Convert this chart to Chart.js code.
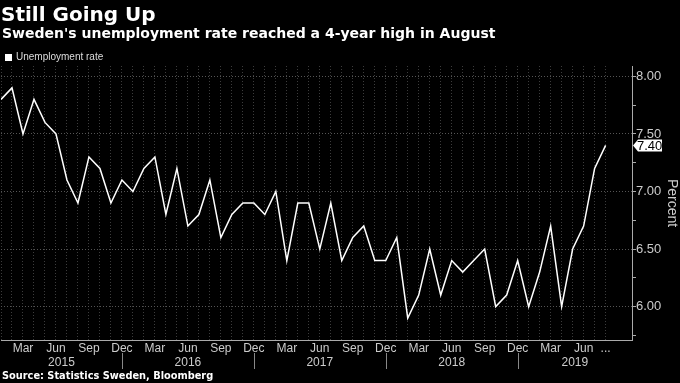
<!DOCTYPE html>
<html><head><meta charset="utf-8">
<script src="https://cdn.jsdelivr.net/npm/chart.js@4/dist/chart.umd.min.js"></script>
<style>
html,body{margin:0;padding:0;background:#000;width:680px;height:383px;overflow:hidden}
#wrap{position:relative;width:680px;height:383px}
canvas{position:absolute;left:0;top:0}
.t{position:absolute;color:#fff;white-space:nowrap;font-family:"DejaVu Sans",sans-serif;font-weight:bold}
.lg{position:absolute;left:5px;top:51px;color:#ddd;font:10px "Liberation Sans",Arial,sans-serif;white-space:nowrap}
.lg span{display:inline-block;width:7px;height:7px;background:#fff;margin-right:4px;vertical-align:-1px}
</style></head><body>
<div id="wrap">
<canvas id="c" width="680" height="383"></canvas>
<div class="t" style="left:1px;top:2px;font-size:20px">Still Going Up</div>
<div class="t" style="left:2px;top:25px;font-size:14px">Sweden's unemployment rate reached a 4-year high in August</div>
<div class="lg"><span></span>Unemployment rate</div>
<div class="t" style="left:2px;top:370px;font-size:9.8px">Source: Statistics Sweden, Bloomberg</div>
</div>
<script>
const startYear = 2015;
const monthNames = ['Jan','Feb','Mar','Apr','May','Jun','Jul','Aug','Sep','Oct','Nov','Dec'];
const unemployment = [
  7.8,7.9,7.5,7.8,7.6,7.5,7.1,6.9,7.3,7.2,6.9,7.1,
  7.0,7.2,7.3,6.8,7.2,6.7,6.8,7.1,6.6,6.8,6.9,6.9,
  6.8,7.0,6.4,6.9,6.9,6.5,6.9,6.4,6.6,6.7,6.4,6.4,
  6.6,5.9,6.1,6.5,6.1,6.4,6.3,6.4,6.5,6.0,6.1,6.4,
  6.0,6.3,6.7,6.0,6.5,6.7,7.2,7.4
];
const categories = unemployment.map((_, i) => monthNames[i % 12] + ' ' + (startYear + Math.floor(i / 12)));
const shownMonths = ['Mar','Jun','Sep','Dec'];
const yearLabels = ['2015','2016','2017','2018','2019'];
const yTickValues = [5.75,6.00,6.25,6.50,6.75,7.00,7.25,7.50,7.75,8.00];
const seriesName = 'Unemployment rate';

const points = unemployment.map((v, i) => ({x: i, y: v}));
const lastIdx = unemployment.length - 1;
const X_MAX = lastIdx + 2.4;

function xLabel(i) {
  if (i === lastIdx) return '...';
  const m = categories[i].split(' ')[0];
  return shownMonths.includes(m) ? m : '';
}

const yearPlugin = {
  id: 'years',
  afterDraw(chart) {
    const ctx = chart.ctx, xs = chart.scales.x;
    const bounds = [xs.min];
    for (let i = 0; i <= lastIdx; i++) if (categories[i].startsWith('Dec')) bounds.push(i);
    bounds.push(xs.max);
    ctx.save();
    ctx.fillStyle = '#ccc';
    ctx.font = '12px "Liberation Sans", Arial, sans-serif';
    ctx.textAlign = 'center';
    ctx.textBaseline = 'middle';
    for (let k = 0; k < yearLabels.length; k++) {
      const c = (bounds[k] + bounds[k + 1]) / 2;
      ctx.fillText(yearLabels[k], xs.getPixelForValue(c), 363);
    }
    ctx.strokeStyle = '#888';
    ctx.lineWidth = 1;
    for (let k = 1; k < bounds.length - 1; k++) {
      const px = Math.round(xs.getPixelForValue(bounds[k])) + 0.5;
      ctx.beginPath(); ctx.moveTo(px, 353); ctx.lineTo(px, 369); ctx.stroke();
    }
    ctx.restore();
  }
};

const tagPlugin = {
  id: 'tag',
  afterDraw(chart) {
    const ctx = chart.ctx, ys = chart.scales.y;
    const v = unemployment[lastIdx];
    const y = ys.getPixelForValue(v);
    const x0 = chart.chartArea.right + 1;
    ctx.save();
    ctx.fillStyle = '#fff';
    ctx.beginPath();
    ctx.moveTo(x0, y);
    ctx.lineTo(x0 + 5, y - 6);
    ctx.lineTo(x0 + 29, y - 6);
    ctx.lineTo(x0 + 29, y + 6);
    ctx.lineTo(x0 + 5, y + 6);
    ctx.closePath();
    ctx.fill();
    ctx.fillStyle = '#000';
    ctx.font = '13px "Liberation Sans", Arial, sans-serif';
    ctx.textAlign = 'left';
    ctx.textBaseline = 'middle';
    ctx.fillText(v.toFixed(2), x0 + 4, y + 0.5);
    ctx.restore();
  }
};

new Chart(document.getElementById('c'), {
  type: 'line',
  data: {
    datasets: [{
      label: seriesName,
      data: points,
      borderColor: '#fff',
      borderWidth: 1.5,
      pointRadius: 0,
      tension: 0,
      fill: false
    }]
  },
  options: {
    responsive: false,
    animation: false,
    layout: {padding: {top: 66, bottom: 23, left: 0, right: 0}},
    plugins: {legend: {display: false}, tooltip: {enabled: false}, title: {display: false}},
    scales: {
      x: {
        type: 'linear',
        min: 0,
        max: X_MAX,
        afterBuildTicks: s => { s.ticks = categories.map((_, i) => ({value: i})); },
        afterFit: s => { s.height = 20; },
        ticks: {
          autoSkip: false, maxRotation: 0, padding: 1,
          color: '#ccc',
          font: {family: '"Liberation Sans", Arial, sans-serif', size: 12},
          callback: v => xLabel(v)
        },
        grid: {color: '#3c3c3c', lineWidth: 1, drawTicks: false},
        border: {display: true, color: '#aaa', width: 1, dash: [1, 2]}
      },
      y: {
        type: 'linear',
        position: 'right',
        min: 5.71,
        max: 8.09,
        afterBuildTicks: s => { s.ticks = yTickValues.map(v => ({value: v})); },
        afterFit: s => { s.width = 48; },
        ticks: {
          padding: 0,
          color: '#ccc',
          font: {family: '"Liberation Sans", Arial, sans-serif', size: 13},
          callback: v => (Math.abs(v * 2 - Math.round(v * 2)) < 1e-6) ? v.toFixed(2) : ''
        },
        grid: {
          color: c => (Math.abs(c.tick.value * 2 - Math.round(c.tick.value * 2)) < 1e-6) ? '#555' : 'rgba(0,0,0,0)',
          tickColor: '#aaa',
          tickLength: 4,
          tickBorderDash: [],
          lineWidth: 1
        },
        border: {display: true, color: '#aaa', width: 1, dash: [1, 2]},
        title: {
          display: true, text: 'Percent', color: '#ccc',
          font: {family: '"Liberation Sans", Arial, sans-serif', size: 14},
          padding: 0
        }
      }
    }
  },
  plugins: [yearPlugin, tagPlugin]
});
</script>
</body></html>
